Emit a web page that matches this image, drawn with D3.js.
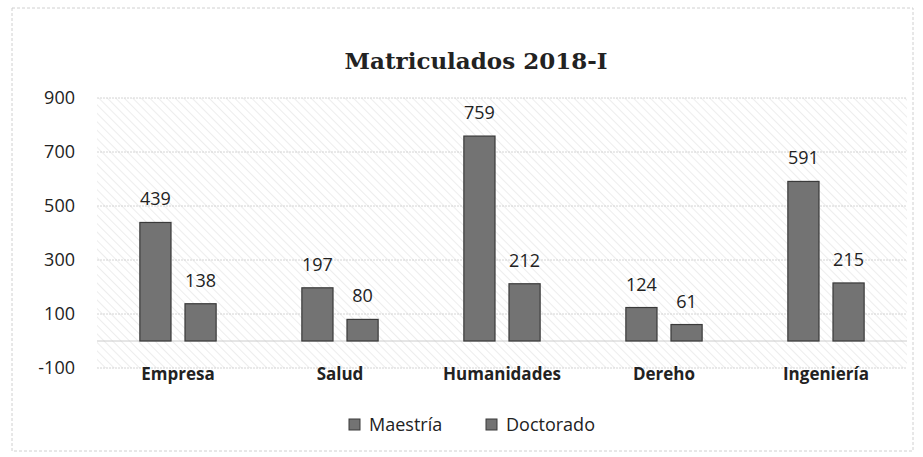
<!DOCTYPE html>
<meta charset="utf-8">
<script src="https://d3js.org/d3.v7.min.js"></script>
<style>
  body { margin: 0; background: #fff; }
</style>
<body>
<div id="my_visual"></div>
<script>

// Data
var categories = ["Empresa", "Salud", "Humanidades", "Dereho", "Ingeniería"];
var seriesNames = ["Maestría", "Doctorado"];
var maestria = [439, 197, 759, 124, 591];
var doctorado = [138, 80, 212, 61, 215];
var yTicks = [-100, 100, 300, 500, 700, 900];

var W = 923, H = 457;
var plot = {left: 97, right: 907, top: 98, bottom: 368};
var font = "'Open Sans', Lato, sans-serif";

var svg = d3.select("#my_visual")
  .append("svg")
    .attr("width", W)
    .attr("height", H);

// hatch pattern for the plot area
var defs = svg.append("defs");
var pat = defs.append("pattern")
    .attr("id", "hatch")
    .attr("patternUnits", "userSpaceOnUse")
    .attr("width", 6).attr("height", 6)
    .attr("patternTransform", "rotate(-45)");
pat.append("line")
    .attr("x1", 0).attr("y1", 0).attr("x2", 0).attr("y2", 6)
    .attr("stroke", "#dcdcdc").attr("stroke-width", 1);

// outer chart frame
svg.append("rect")
    .attr("x", 12).attr("y", 8)
    .attr("width", W - 22).attr("height", H - 14)
    .attr("fill", "none")
    .attr("stroke", "#d0d0d0")
    .attr("stroke-dasharray", "3,2");

// title
svg.append("text")
    .attr("x", 476).attr("y", 69)
    .attr("text-anchor", "middle")
    .style("font-family", "'DejaVu Serif', 'Liberation Serif', serif")
    .style("font-weight", "bold")
    .style("font-size", "23px")
    .attr("fill", "#222")
    .text("Matriculados 2018-I");

// scales
var x = d3.scaleBand()
    .domain(categories)
    .range([plot.left, plot.right]);

var xInner = d3.scaleBand()
    .domain(seriesNames)
    .range([0, x.bandwidth()])
    .paddingInner(0.31)
    .paddingOuter(0.95);

var y = d3.scaleLinear()
    .domain([-100, 900])
    .range([plot.bottom, plot.top]);

// plot background
svg.append("rect")
    .attr("x", plot.left).attr("y", plot.top)
    .attr("width", plot.right - plot.left)
    .attr("height", plot.bottom - plot.top)
    .attr("fill", "url(#hatch)");

// gridlines
svg.append("g")
  .selectAll("line")
  .data(yTicks)
  .enter()
  .append("line")
    .attr("x1", plot.left).attr("x2", plot.right)
    .attr("y1", function(d) { return y(d); })
    .attr("y2", function(d) { return y(d); })
    .attr("stroke", "#d4d4d4")
    .attr("stroke-dasharray", "2,1")
    .attr("stroke-width", 1);

// zero line
svg.append("line")
    .attr("x1", plot.left).attr("x2", plot.right)
    .attr("y1", y(0)).attr("y2", y(0))
    .attr("stroke", "#cccccc");

// y axis (labels only)
var yAxis = svg.append("g")
    .attr("transform", "translate(" + (plot.left - 22) + ",0)")
    .call(d3.axisLeft(y).tickValues(yTicks).tickSize(0).tickPadding(0)
      .tickFormat(function(d) { return String(d); }));
yAxis.select(".domain").remove();
yAxis.selectAll("text")
    .style("font-family", font)
    .style("font-size", "18px")
    .attr("fill", "#222");

// x axis labels
var xAxis = svg.append("g")
    .attr("transform", "translate(0," + (plot.bottom - 10) + ")")
    .call(d3.axisBottom(x).tickSize(0).tickPadding(10));
xAxis.select(".domain").remove();
xAxis.selectAll("text")
    .style("font-family", font)
    .style("font-size", "17px")
    .style("font-weight", "bold")
    .attr("fill", "#222");

// bars
var rows = categories.map(function(c, i) {
  return {cat: c, values: [
    {key: "Maestría", value: maestria[i]},
    {key: "Doctorado", value: doctorado[i]}
  ]};
});

var groups = svg.append("g")
  .selectAll("g")
  .data(rows)
  .enter()
  .append("g")
    .attr("transform", function(d) { return "translate(" + x(d.cat) + ",0)"; });

groups.selectAll("rect")
  .data(function(d) { return d.values; })
  .enter()
  .append("rect")
    .attr("x", function(d) { return xInner(d.key); })
    .attr("y", function(d) { return y(d.value); })
    .attr("width", xInner.bandwidth())
    .attr("height", function(d) { return y(0) - y(d.value); })
    .attr("fill", "#737373")
    .attr("stroke", "#3a3a3a")
    .attr("stroke-width", 1.2);

groups.selectAll("text")
  .data(function(d) { return d.values; })
  .enter()
  .append("text")
    .attr("x", function(d) { return xInner(d.key) + xInner.bandwidth() / 2; })
    .attr("y", function(d) { return y(d.value) - 17; })
    .attr("text-anchor", "middle")
    .style("font-family", font)
    .style("font-size", "18px")
    .attr("fill", "#222")
    .text(function(d) { return d.value; });

// legend
var legendX = [349, 486];
var legend = svg.append("g")
  .selectAll("g")
  .data(seriesNames)
  .enter()
  .append("g")
    .attr("transform", function(d, i) { return "translate(" + legendX[i] + ",424)"; });

legend.append("rect")
    .attr("x", 0).attr("y", -5)
    .attr("width", 11).attr("height", 11)
    .attr("fill", "#737373")
    .attr("stroke", "#3a3a3a");

legend.append("text")
    .attr("x", 20).attr("y", 7)
    .style("font-family", font)
    .style("font-size", "18px")
    .attr("fill", "#222")
    .text(function(d) { return d; });

</script>
</body>
